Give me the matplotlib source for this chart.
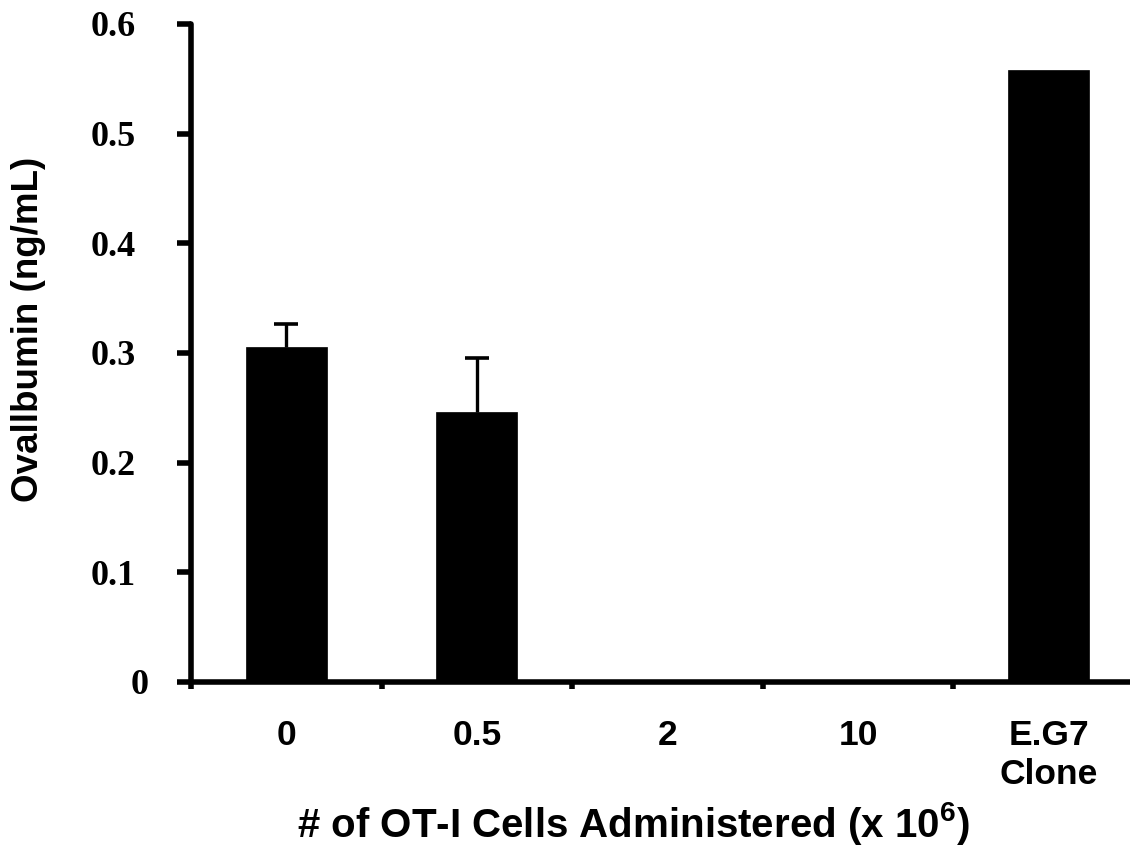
import numpy as np
import matplotlib
matplotlib.use("Agg")
import matplotlib.pyplot as plt
from matplotlib.transforms import ScaledTranslation

plt.rcParams['mathtext.fontset'] = 'custom'
plt.rcParams['mathtext.rm'] = 'Liberation Sans:bold'
plt.rcParams['mathtext.default'] = 'rm'

# data
categories = ['0', '0.5', '2', '10', 'E.G7\nClone']
values = [0.305, 0.246, 0.0, 0.0, 0.558]
err_up = [0.021, 0.049, 0.0, 0.0, 0.0]
y_ticks = [0, 0.1, 0.2, 0.3, 0.4, 0.5, 0.6]
y_labels = ['0', '0.1', '0.2', '0.3', '0.4', '0.5', '0.6']

fig = plt.figure(figsize=(11.3, 8.48), dpi=100)
ax = fig.add_axes([0.169, 0.1958, 0.8434, 0.776])

x = np.arange(len(categories))
ax.bar(x, values, width=0.425, color='black', edgecolor='black', linewidth=0.5, zorder=2)
_, caps, _ = ax.errorbar(x[:2], values[:2], yerr=[np.zeros(2), err_up[:2]], fmt='none',
                         ecolor='black', elinewidth=2.4, capsize=8.5, capthick=2.6, zorder=1)
# hide the lower caps (they sit on the bar tops)
for c in caps:
    if np.allclose(c.get_ydata(), values[:2]):
        c.set_visible(False)

ax.set_xlim(-0.5, len(categories) - 0.5)
ax.set_ylim(0, 0.6)

for side in ['top', 'right']:
    ax.spines[side].set_visible(False)
for side in ['left', 'bottom']:
    ax.spines[side].set_linewidth(4)
    ax.spines[side].set_capstyle('round')

# y axis
ax.set_yticks(y_ticks)
ax.set_yticklabels(y_labels, fontfamily='Liberation Serif', fontweight='bold', fontsize=26)
ax.tick_params(axis='y', direction='out', length=10, width=4, pad=30)
zero_lbl = ax.get_yticklabels()[0]
zero_lbl.set_transform(zero_lbl.get_transform() + ScaledTranslation(13 / 100, 0, fig.dpi_scale_trans))

# x axis: labels at centres, tick marks at boundaries
ax.set_xticks(x)
ax.set_xticklabels(categories, fontfamily='Liberation Sans', fontweight='bold', fontsize=25.5)
ax.tick_params(axis='x', which='major', length=0, pad=27)
ax.set_xticks(np.arange(-0.5, len(categories), 1.0), minor=True)
ax.tick_params(axis='x', which='minor', direction='out', length=5, width=4)

fig.text(0.0255, 0.612, 'Ovallbumin (ng/mL)', rotation=90, ha='center', va='center',
         fontfamily='Liberation Sans', fontweight='bold', fontsize=26.5)
fig.text(0.5606, 0.013, r'# of OT-I Cells Administered (x 10$^{6}$)', ha='center', va='baseline',
         fontfamily='Liberation Sans', fontweight='bold', fontsize=29)

fig.savefig('out.png', dpi=100)
